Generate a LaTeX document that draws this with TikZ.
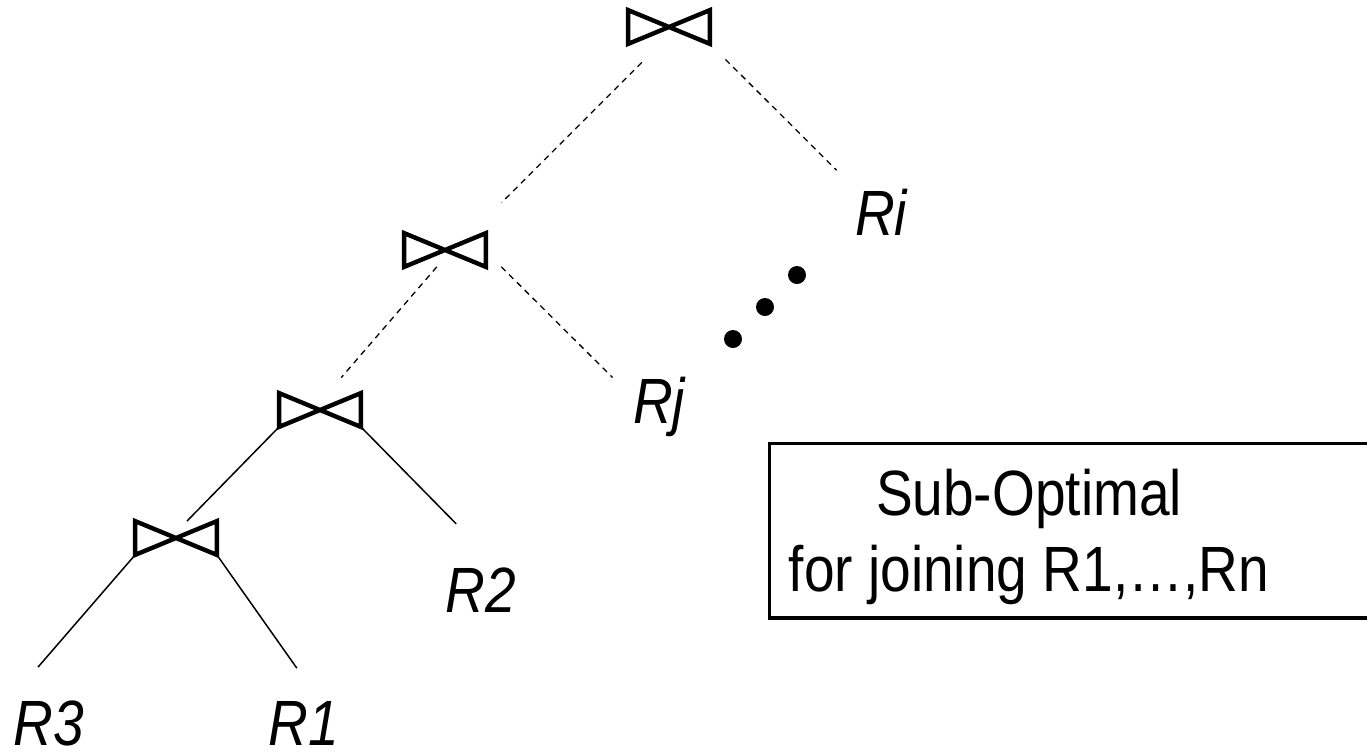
\documentclass[tikz,border=0pt]{standalone}
\usepackage{fontspec}
\setmainfont{Liberation Sans}[FakeStretch=0.86]
\usepackage{tikz}
\tikzset{
  joinbox/.style={minimum width=40.5pt, minimum height=16.5pt, inner sep=0pt},
  joinsym/.style={line width=2.2pt},
  relbox/.style={inner sep=2pt, anchor=base, font=\fontsize{32}{38}\selectfont\itshape},
  notebox/.style={draw, line width=1.6pt, minimum width=301pt, minimum height=87.3pt, inner sep=0pt},
  notetxt/.style={align=center, inner sep=0pt, font=\fontsize{32}{38}\selectfont},
  planedge/.style={line width=0.75pt},
  partedge/.style={line width=0.65pt, dash pattern=on 3pt off 2.5pt}
}

\begin{document}
\begin{tikzpicture}[x=0.5pt, y=-0.5pt]
\useasboundingbox (0,0) rectangle (1367,751);
% join operators
\node[joinbox] (j1) at (669,27) {};
\node[joinbox] (j2) at (445,250) {};
\node[joinbox] (j3) at (320,410) {};
\node[joinbox] (j4) at (176,538) {};
\foreach \j in {j1,j2,j3,j4}
  \draw[joinsym] (\j.north west) -- (\j.south east) -- (\j.north east) -- (\j.south west) -- cycle;
% relations
\node[relbox] (ri) at (881,235) {Ri};
\node[relbox] (rj) at (659,423) {Rj};
\node[relbox] (r2) at (481,612) {R2};
\node[relbox] (r3) at (49,745) {R3};
\node[relbox] (r1) at (304,745) {R1};
% edges
\draw[partedge, shorten <=13.1pt, shorten >=21.6pt] (j1.243) -- (j2.33);
\draw[partedge, shorten <=11pt, shorten >=9.9pt] (j1.south east) -- (ri.north west);
\draw[partedge, shorten >=10.2pt] (j2.244) -- (j3.65);
\draw[partedge, shorten <=10.9pt, shorten >=11.3pt] (j2.358) -- (rj.157);
\draw[planedge] (j3.south west) -- (j4.57);
\draw[planedge, shorten >=27.4pt] (j3.south east) -- (r2.63);
\draw[planedge, shorten >=19pt] (j4.south west) -- (r3.143);
\draw[planedge, shorten >=17.4pt] (j4.south east) -- (r1.64);
\foreach \x/\y in {733/339,765/307,797/275}
  \fill (\x,\y) circle[radius=4.5pt];
% note
\node[notebox] (note) at (1070.75,530.75) {};
\node[notetxt] (notetxt) at (1029,537) {Sub-Optimal\\for joining R1,…,Rn};
\end{tikzpicture}
\end{document}
